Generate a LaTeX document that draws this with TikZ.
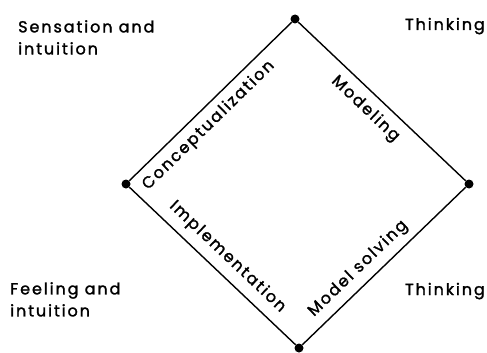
\documentclass[tikz,border=0pt]{standalone}
\usepackage{fontspec}
\setmainfont{Poppins}[LetterSpace=12, FakeBold=1.6]
\begin{document}
\begin{tikzpicture}[x=1pt, y=-1pt,
    dot/.style={circle, fill, inner sep=0pt, minimum size=9pt},
    edgelbl/.style={font=\fontsize{16}{22}\selectfont, inner sep=2pt, sloped},
    cornerlbl/.style={font=\fontsize{16}{22}\selectfont, align=left, inner sep=0pt}]
    \useasboundingbox (0,0) rectangle (487,353);
    % the four corners of the diamond
    \node[dot] (top) at (295,19) {};
    \node[dot] (right) at (469,184) {};
    \node[dot] (bottom) at (299,348) {};
    \node[dot] (left) at (126,184) {};
    \draw[line width=1.4pt] (left) -- node[edgelbl, below=5pt, pos=0.42] {Conceptualization} (top);
    \draw[line width=1.4pt] (top) -- node[edgelbl, below=6pt, pos=0.47] {Modeling} (right);
    \draw[line width=1.4pt] (left) -- node[edgelbl, above=6pt, pos=0.52] {Implementation} (bottom);
    \draw[line width=1.4pt] (bottom) -- node[edgelbl, above=5pt, pos=0.41] {Model solving} (right);
    % the four quadrants
    \node[cornerlbl, anchor=north west] (sens) at (18,20) {Sensation and\\intuition};
    \node[cornerlbl, anchor=base east] (thinktop) at (485,30) {Thinking};
    \node[cornerlbl, anchor=north west] (feel) at (10,282) {Feeling and\\intuition};
    \node[cornerlbl, anchor=base east] (thinkbot) at (485,295) {Thinking};
\end{tikzpicture}
\end{document}
